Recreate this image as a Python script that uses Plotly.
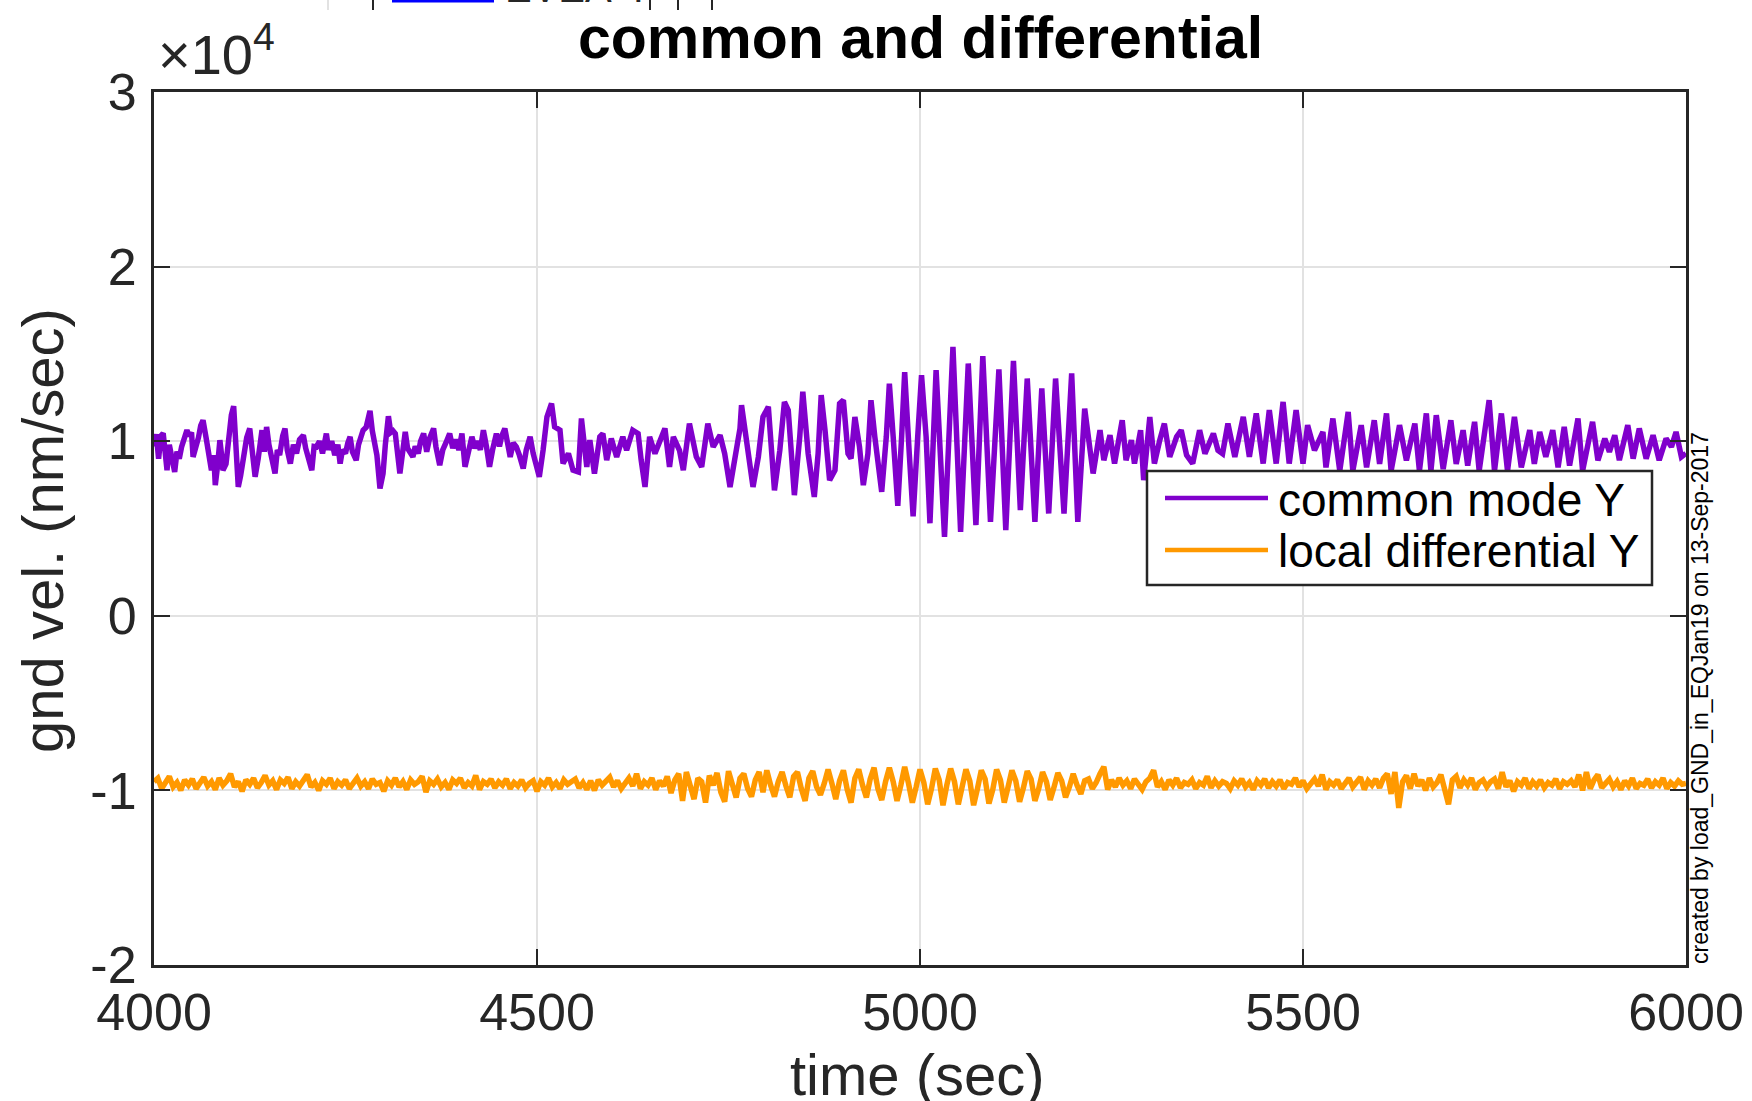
import plotly.graph_objects as go

# ---------------- data ----------------
cm_t = [4000, 4003, 4006, 4009, 4012, 4015, 4017, 4020, 4023, 4027, 4030, 4033, 4036, 4040, 4043, 4046, 4049, 4051,
        4055, 4058, 4061, 4064, 4068, 4071, 4075, 4078, 4080, 4083, 4086, 4088, 4090, 4094, 4098, 4101, 4104, 4107,
        4110, 4113, 4117, 4121, 4125, 4128, 4132, 4136, 4139, 4141, 4144, 4147, 4150, 4154, 4158, 4161, 4164, 4168,
        4171, 4174, 4178, 4182, 4186, 4190, 4195, 4198, 4202, 4206, 4209, 4212, 4216, 4220, 4225, 4228, 4232, 4236,
        4240, 4243, 4246, 4250, 4253, 4256, 4259, 4264, 4267, 4270, 4273, 4277, 4282, 4285, 4288, 4291, 4295, 4299,
        4302, 4306, 4309, 4312, 4315, 4318, 4321, 4325, 4328, 4331, 4335, 4338, 4341, 4345, 4348, 4352, 4356, 4360,
        4365, 4368, 4373, 4377, 4381, 4386, 4390, 4394, 4398, 4402, 4406, 4410, 4415, 4419, 4423, 4426, 4430, 4434,
        4438, 4442, 4447, 4451, 4454, 4458, 4462, 4465, 4469, 4473, 4477, 4482, 4486, 4491, 4495, 4499, 4503, 4508,
        4513, 4519, 4523, 4530, 4534, 4541, 4547, 4554, 4558, 4565, 4569, 4575, 4582, 4586, 4591, 4597, 4604, 4612,
        4617, 4625, 4632, 4636, 4641, 4647, 4654, 4667, 4673, 4678, 4686, 4691, 4699, 4708, 4715, 4723, 4730, 4739,
        4745, 4752, 4758, 4765, 4767, 4773, 4780, 4782, 4789, 4795, 4802, 4806, 4810, 4817, 4823, 4828, 4832, 4836,
        4843, 4847, 4854, 4862, 4867, 4871, 4876, 4882, 4889, 4895, 4900, 4906, 4910, 4915, 4921, 4926, 4932, 4936,
        4941, 4950, 4956, 4960, 4965, 4971, 4976, 4980, 4986, 4991, 4997, 5002, 5008, 5013, 5021, 5032, 5043, 5053,
        5063, 5073, 5082, 5092, 5103, 5112, 5122, 5131, 5140, 5150, 5159, 5168, 5177, 5188, 5198, 5206, 5215, 5226,
        5235, 5240, 5248, 5254, 5264, 5269, 5276, 5280, 5288, 5292, 5300, 5306, 5313, 5319, 5326, 5335, 5341, 5348,
        5356, 5365, 5372, 5383, 5389, 5395, 5402, 5411, 5422, 5430, 5439, 5448, 5456, 5465, 5474, 5482, 5491, 5500,
        5506, 5515, 5526, 5530, 5539, 5548, 5559, 5565, 5576, 5583, 5593, 5600, 5609, 5615, 5626, 5635, 5646, 5652,
        5661, 5667, 5674, 5683, 5693, 5700, 5709, 5715, 5724, 5730, 5743, 5750, 5759, 5767, 5776, 5785, 5796, 5802,
        5809, 5817, 5826, 5833, 5841, 5848, 5859, 5865, 5878, 5885, 5894, 5900, 5907, 5913, 5924, 5931, 5939, 5948,
        5957, 5965, 5974, 5981, 5987, 5994, 6000]
cm_v = [9700, 10400, 9000, 10300, 10450, 8600, 8340, 9800, 9200, 8240, 9400, 9000, 9675, 10200, 10630, 10300, 10500,
        9100, 9700, 10200, 10900, 11200, 10200, 9400, 8340, 9200, 7480, 8600, 10060, 9300, 8340, 8700, 10500, 11500,
        12000, 10000, 7380, 8000, 9100, 10200, 10730, 9600, 7960, 9000, 10500, 10630, 9400, 10820, 9800, 9000, 8150,
        9500, 9200, 10300, 10730, 9500, 8720, 9800, 9300, 10100, 10340, 9600, 9000, 8340, 9700, 9675, 10000, 9300,
        10440, 9500, 10000, 9200, 9800, 8720, 9500, 9300, 9900, 10250, 9400, 8910, 9800, 10300, 10630, 10800, 11740,
        10600, 9675, 9200, 7290, 8150, 9800, 11430, 10500, 10600, 10440, 9200, 8150, 9500, 10530, 9600, 9300, 9100,
        9700, 9300, 10000, 10440, 9400, 10200, 10730, 9700, 8620, 9500, 9900, 10440, 9600, 10100, 9500, 10440, 8530,
        9400, 10250, 9600, 10000, 9500, 10630, 9700, 8530, 9500, 10440, 9700, 10300, 10730, 9600, 9100, 9900, 9675,
        9200, 8430, 9500, 10250, 9300, 8500, 7960, 9500, 11400, 12160, 10820, 10630, 8720, 9290, 8340, 8240, 11300,
        8530, 10060, 8150, 10250, 10440, 8910, 10150, 9100, 10250, 9480, 10630, 10440, 8910, 7380, 10250, 9290, 10730,
        8530, 10250, 9480, 8340, 11010, 9100, 8530, 11010, 9675, 10340, 9290, 7380, 9100, 10730, 12060, 10250, 8340,
        7380, 9100, 11390, 11970, 9290, 7190, 9480, 12250, 11780, 8910, 6910, 10250, 12830, 9290, 6810, 9290, 12640,
        10630, 7770, 8340, 12160, 12350, 9290, 9010, 11390, 9675, 7480, 9290, 12350, 10250, 7100, 10250, 13300, 10250,
        6300, 10250, 13950, 9290, 5700, 10250, 13780, 10250, 5300, 14070, 4520, 15400, 4800, 14450, 5190, 14870, 5380,
        14110, 4900, 14600, 6050, 13590, 5380, 13020, 5860, 13590, 5860, 13880, 5380, 11870, 8150, 10630, 8910, 10340,
        8720, 11200, 8910, 10060, 8720, 10630, 7770, 11390, 8720, 10060, 11010, 9100, 10250, 10630, 9200, 8720, 10630,
        9290, 10440, 9480, 9290, 11010, 9100, 11390, 9100, 11590, 8720, 11780, 8720, 12250, 8720, 11780, 8720, 10920,
        9480, 10530, 8500, 11300, 8300, 11680, 8300, 10920, 8500, 11200, 8700, 11590, 8300, 10920, 8900, 11010, 8300,
        11590, 8300, 11490, 8400, 11200, 8700, 10630, 8600, 11110, 8300, 12350, 8300, 11590, 8300, 11390, 8500, 10630,
        8700, 10530, 9100, 10630, 8500, 10820, 8600, 11300, 8300, 11110, 8900, 10150, 9390, 10340, 8910, 10920, 9000,
        10730, 9000, 10340, 8910, 10150, 9675, 10530, 9100, 9300]

ld_t0 = 4000   # local differential sampled every ld_dt seconds
ld_dt = 5
ld_v = [-9500, -9300, -9900, -9600, -9200, -9800, -9550, -10000, -9400, -9700,
        -9350, -9900, -9600, -9250, -9750, -9500, -9950, -9300, -9700, -9450,
        -9050, -9800, -9500, -10050, -9400, -9650, -9300, -9850, -9550, -9150,
        -9700, -9450, -9950, -9400, -9600, -9250, -9900, -9500, -9750, -9350,
        -9100, -9800, -9550, -10000, -9450, -9650, -9300, -9900, -9500, -9700,
        -9400, -9900, -9550, -9300, -9750, -9500, -9900, -9350, -9650, -9550,
        -10050, -9450, -9700, -9300, -9800, -9500, -9950, -9400, -9650, -9500,
        -9200, -10100, -9450, -9650, -9350, -9800, -9550, -9950, -9400, -9600,
        -9300, -9850, -9550, -9750, -9150, -9950, -9500, -9650, -9350, -9850,
        -9500, -9700, -9350, -9900, -9550, -9750, -9400, -9850, -9600, -9450,
        -10050, -9500, -9700, -9300, -9800, -9550, -9900, -9400, -9650, -9500,
        -9350, -9850, -9550, -9950, -9450, -10000, -9400, -9700, -9500, -9250,
        -9800, -9450, -9900, -9550, -9300, -9750, -9050, -9900, -9500, -9700,
        -9300, -9950, -9450, -9750, -9200, -10150, -9400, -9050, -10600, -8950,
        -9800, -10500, -9300, -9500, -10700, -9150, -9700, -9000, -10100, -10650,
        -8900, -9600, -10400, -9300, -9050, -9900, -10350, -9400, -8950, -10100,
        -8850, -9700, -10350, -9500, -8950, -9750, -10400, -9200, -8950, -9900,
        -10600, -9300, -8900, -9800, -10250, -9600, -8800, -9600, -10500, -9450,
        -8850, -9950, -10700, -9300, -8800, -9700, -10400, -9350, -8700, -9900,
        -10550, -9500, -8700, -9500, -10600, -9700, -8650, -9600, -10700, -9800,
        -8800, -9550, -10800, -9900, -8750, -9400, -10850, -9700, -8750, -9500,
        -10800, -9800, -8800, -9450, -10850, -9900, -8850, -9350, -10750, -9950,
        -8800, -9400, -10700, -9800, -8850, -9450, -10650, -9850, -8900, -9350,
        -10600, -9900, -8950, -9500, -10550, -9800, -9000, -9450, -10400, -9800,
        -9050, -9700, -10200, -9450, -9350, -9900, -9550, -9050, -8650, -9950,
        -9400, -9800, -9300, -9700, -9450, -9900, -9350, -9650, -9950, -9500,
        -9300, -8850, -9800, -9500, -9950, -9400, -9700, -9300, -9850, -9550,
        -9650, -9400, -9900, -9550, -9700, -9200, -9850, -9450, -9750, -9500,
        -9600, -9900, -9450, -9700, -9350, -9800, -9550, -9950, -9450, -9700,
        -9350, -9850, -9500, -9750, -9400, -9900, -9550, -9650, -9300, -9800,
        -9450, -9900, -9600, -9350, -9750, -9100, -9950, -9500, -9700, -9400,
        -9900, -9550, -9300, -9800, -9500, -9250, -9950, -9450, -9700, -9350,
        -9850, -9300, -9050, -10200, -8950, -11000, -9500, -9150, -9900, -9050,
        -9750, -9400, -10000, -9300, -9800, -9550, -9100, -10100, -10800, -9400,
        -9200, -9850, -9400, -9700, -9300, -9950, -9550, -9400, -9800, -9500,
        -9350, -9900, -8950, -9800, -9450, -10050, -9500, -9700, -9300, -9900,
        -9500, -9750, -9400, -9850, -9550, -9700, -9350, -9900, -9500, -9650,
        -9450, -9800, -9100, -10000, -8950, -9900, -9400, -9100, -9850, -9600,
        -9350, -9800, -9500, -9950, -9450, -9750, -9300, -9900, -9600, -9700,
        -9350, -9850, -9500, -9700, -9300, -9900, -9550, -9750, -9450, -9650,
        -9600]
ld_t = [ld_t0 + ld_dt * i for i in range(len(ld_v))]

series_names = ["common mode Y", "local differential Y"]
x_ticks = [4000, 4500, 5000, 5500, 6000]
y_ticks = [-20000, -10000, 0, 10000, 20000, 30000]
y_tick_text = ["-2", "-1", "0", "1", "2", "3"]

# ---------------- layout geometry ----------------
W, H = 1752, 1101
L, R, T, B = 154, 1686, 92, 965
PW, PH = R - L, B - T
FONT = "Liberation Sans, Arial, Helvetica, sans-serif"
AX = "#262626"
PURPLE = "#8000CC"
ORANGE = "#FF9900"
LW = 5.5


def px(x):
    return (x - L) / PW


def py(y):
    return (B - y) / PH


fig = go.Figure()
fig.add_trace(go.Scatter(x=cm_t, y=cm_v, mode="lines", name=series_names[0],
                         line=dict(color=PURPLE, width=LW), showlegend=False))
fig.add_trace(go.Scatter(x=ld_t, y=ld_v, mode="lines", name=series_names[1],
                         line=dict(color=ORANGE, width=LW), showlegend=False))

axis_common = dict(showline=True, linecolor=AX, linewidth=3, mirror="ticks",
                   ticks="inside", ticklen=16, tickwidth=2, tickcolor=AX,
                   showgrid=True, gridcolor="#e2e2e2", gridwidth=2,
                   zeroline=False, tickfont=dict(family=FONT, size=52, color=AX))

fig.update_layout(
    width=W, height=H,
    margin=dict(l=L, r=W - R, t=T, b=H - B, autoexpand=False),
    paper_bgcolor="white", plot_bgcolor="white",
    xaxis=dict(range=[4000, 6000], tickvals=x_ticks, ticklabelstandoff=0,
               **axis_common),
    yaxis=dict(range=[-20000, 30000], tickvals=y_ticks, ticktext=y_tick_text,
               ticklabelstandoff=4, **axis_common),
    showlegend=False,
)

ann = []
# title
ann.append(dict(text="<b>common and differential</b>", x=px(920), y=py(38), xref="paper", yref="paper",
                xanchor="center", yanchor="middle", showarrow=False,
                font=dict(family=FONT, size=59, color="black")))
# axis titles
ann.append(dict(text="time (sec)", x=px(917), y=py(1074), xref="paper", yref="paper",
                xanchor="center", yanchor="middle", showarrow=False,
                font=dict(family=FONT, size=58, color=AX)))
ann.append(dict(text="gnd vel. (nm/sec)", x=px(42), y=py(531), xref="paper", yref="paper",
                xanchor="center", yanchor="middle", textangle=-90, showarrow=False,
                font=dict(family=FONT, size=58, color=AX)))
# exponent
ann.append(dict(text="×10<sup>4</sup>", x=px(156), y=py(88), xref="paper", yref="paper",
                xanchor="left", yanchor="bottom", showarrow=False,
                font=dict(family=FONT, size=56, color=AX)))
# credit text
ann.append(dict(text="created by load_GND_in_EQJan19 on 13-Sep-2017", x=px(1700), y=py(966),
                xref="paper", yref="paper", xanchor="center", yanchor="bottom", textangle=-90,
                showarrow=False, font=dict(family=FONT, size=23, color="black")))
# legend texts
ann.append(dict(text=series_names[0], x=px(1276), y=py(500), xref="paper", yref="paper",
                xanchor="left", yanchor="middle", showarrow=False,
                font=dict(family=FONT, size=46, color="black")))
ann.append(dict(text=series_names[1], x=px(1276), y=py(551), xref="paper", yref="paper",
                xanchor="left", yanchor="middle", showarrow=False,
                font=dict(family=FONT, size=46, color="black")))
# remnant of the panel above (clipped at top)
ann.append(dict(text="EVEA-Y", x=px(503), y=py(12), xref="paper", yref="paper",
                xanchor="left", yanchor="bottom", showarrow=False,
                font=dict(family=FONT, size=40, color=AX)))

shapes = []
# legend box + sample lines
shapes.append(dict(type="rect", xref="paper", yref="paper", x0=px(1147), x1=px(1652), y0=py(585), y1=py(471),
                   fillcolor="white", line=dict(color=AX, width=2.5), layer="above"))
shapes.append(dict(type="line", xref="paper", yref="paper", x0=px(1165), x1=px(1268), y0=py(498), y1=py(498),
                   line=dict(color=PURPLE, width=4.5), layer="above"))
shapes.append(dict(type="line", xref="paper", yref="paper", x0=px(1165), x1=px(1268), y0=py(550), y1=py(550),
                   line=dict(color=ORANGE, width=4.5), layer="above"))
# remnant pieces at the very top
shapes.append(dict(type="line", xref="paper", yref="paper", x0=px(328), x1=px(328), y0=py(0), y1=py(10),
                   line=dict(color="#e2e2e2", width=2)))
shapes.append(dict(type="line", xref="paper", yref="paper", x0=px(373), x1=px(373), y0=py(0), y1=py(10),
                   line=dict(color=AX, width=2)))
shapes.append(dict(type="line", xref="paper", yref="paper", x0=px(392), x1=px(494), y0=py(1), y1=py(1),
                   line=dict(color="#0000FF", width=3)))
for bx in (650, 678, 712):
    shapes.append(dict(type="line", xref="paper", yref="paper", x0=px(bx), x1=px(bx), y0=py(0), y1=py(10),
                       line=dict(color=AX, width=2)))

fig.update_layout(annotations=ann, shapes=shapes)
fig.write_html("out.html")
